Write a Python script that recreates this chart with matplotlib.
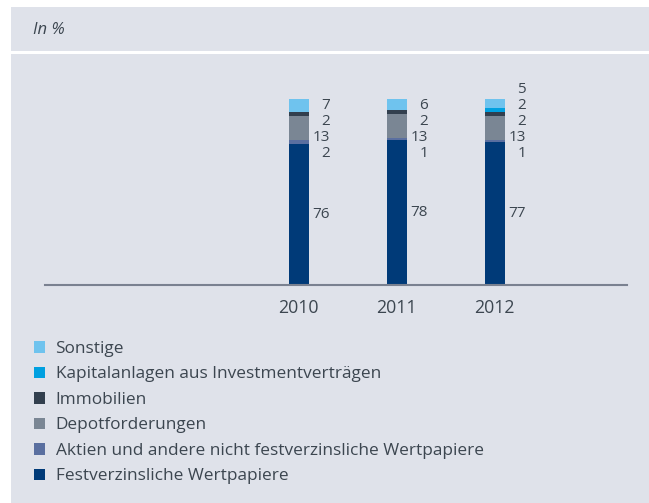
"""
Stacked bar chart of investment portfolio structure 2010-2012 (in %).

Output:
    out.png
"""

import matplotlib.pyplot as plt
from matplotlib.patches import Rectangle


# ---------------------------------------------------------------------
# Data
# ---------------------------------------------------------------------

YEARS = ["2010", "2011", "2012"]

# stacking order, bottom to top
CATEGORIES = [
    "Festverzinsliche Wertpapiere",
    "Aktien und andere nicht festverzinsliche Wertpapiere",
    "Depotforderungen",
    "Immobilien",
    "Kapitalanlagen aus Investmentverträgen",
    "Sonstige",
]

FESTVERZINSLICH = [76, 78, 77]
AKTIEN = [2, 1, 1]
DEPOT = [13, 13, 13]
IMMOBILIEN = [2, 2, 2]
KAPITAL_INVEST = [0, 0, 2]
SONSTIGE = [7, 6, 5]

SERIES = [FESTVERZINSLICH, AKTIEN, DEPOT, IMMOBILIEN, KAPITAL_INVEST, SONSTIGE]

COLORS = ["#003a78", "#5a6fa0", "#7a8694", "#323f4e", "#00a0e0", "#6fc3ee"]

# ---------------------------------------------------------------------
# Style
# ---------------------------------------------------------------------

W, H = 649, 503
BG = "#dfe2ea"
TEXT = "#3c4650"
FONT = "Open Sans"

plt.rcParams["font.family"] = [FONT, "DejaVu Sans"]

# small labels sit in fixed slots above the first segment
SLOT_BASE = 70.6
SLOT_STEP = 8.6


def px_rect(x0, y0, x1, y1):
    """Convert pixel box (top-left origin) into figure fraction rect."""
    return (x0 / W, 1 - y1 / H, (x1 - x0) / W, (y1 - y0) / H)


def main():
    fig = plt.figure(figsize=(W / 100, H / 100), dpi=100, facecolor="white")

    # panel backgrounds
    for box in [(11, 7, 649, 51), (11, 54, 649, 503)]:
        x, y, w, h = px_rect(*box)
        fig.patches.append(Rectangle((x, y), w, h, transform=fig.transFigure,
                                     facecolor=BG, edgecolor="none", zorder=-5))

    fig.text(33 / W, 1 - 30 / H, "In %", fontsize=12, style="italic",
             color=TEXT, va="center", ha="left")

    ax = fig.add_axes(px_rect(45, 80, 627, 285))
    ax.set_facecolor("none")
    ax.set_zorder(2)

    xs = list(range(len(YEARS)))
    bottoms = [0] * len(YEARS)
    bars = []
    for values, color, label in zip(SERIES, COLORS, CATEGORIES):
        b = ax.bar(xs, values, width=0.205, bottom=bottoms, color=color,
                   label=label, zorder=2)
        bars.append(b)
        bottoms = [bt + v for bt, v in zip(bottoms, values)]

    # value labels
    for i, x in enumerate(xs):
        first = SERIES[0][i]
        ax.text(x + 0.32, first / 2, str(first), ha="right", va="center",
                fontsize=11, color=TEXT)
        slot = 0
        for values in SERIES[1:]:
            v = values[i]
            if v == 0:
                continue
            ax.text(x + 0.32, SLOT_BASE + slot * SLOT_STEP, str(v),
                    ha="right", va="center", fontsize=11, color=TEXT)
            slot += 1

    ax.set_xlim(-2.59, 3.35)
    ax.set_ylim(0, 110.2)
    ax.set_xticks(xs)
    ax.set_xticklabels(YEARS)
    ax.set_yticks([])
    ax.tick_params(axis="x", length=0, pad=10, labelsize=12.8, labelcolor=TEXT)
    for side in ["top", "left", "right"]:
        ax.spines[side].set_visible(False)
    ax.spines["bottom"].set_color("#7a8190")
    ax.spines["bottom"].set_linewidth(1.5)

    handles = [b[0] for b in bars][::-1]
    labels = CATEGORIES[::-1]
    fig.legend(handles, labels, loc="upper left",
               bbox_to_anchor=(34 / W, 1 - 341 / H), frameon=False,
               fontsize=12.4, labelcolor=TEXT, handlelength=0.65,
               handleheight=0.65, handletextpad=0.6, labelspacing=0.55,
               borderaxespad=0, borderpad=0)

    fig.savefig("out.png", dpi=100, facecolor="white")
    plt.close(fig)


if __name__ == "__main__":
    main()
